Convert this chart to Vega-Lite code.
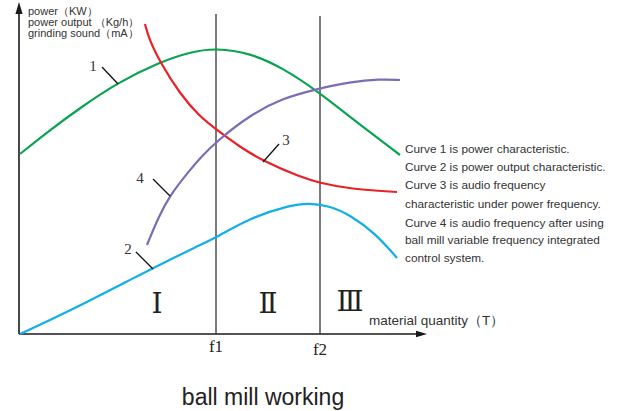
{
  "$schema": "https://vega.github.io/schema/vega-lite/v6.json",
  "width": 622,
  "height": 411,
  "autosize": {"type": "fit", "contains": "padding"},
  "padding": 0,
  "background": "white",
  "config": {"view": {"stroke": null}},
  "datasets": {
    "curves": [
      {"curve": "1", "x": 1, "y": 180}, {"curve": "1", "x": 31, "y": 204}, {"curve": "1", "x": 61, "y": 226}, {"curve": "1", "x": 98, "y": 251}, {"curve": "1", "x": 141, "y": 272}, {"curve": "1", "x": 171, "y": 282}, {"curve": "1", "x": 197, "y": 286}, {"curve": "1", "x": 231, "y": 281}, {"curve": "1", "x": 264, "y": 266}, {"curve": "1", "x": 301, "y": 241}, {"curve": "1", "x": 331, "y": 217}, {"curve": "1", "x": 381, "y": 179},
      {"curve": "3", "x": 126, "y": 310}, {"curve": "3", "x": 130, "y": 295}, {"curve": "3", "x": 141, "y": 272}, {"curve": "3", "x": 161, "y": 240}, {"curve": "3", "x": 181, "y": 217}, {"curve": "3", "x": 198, "y": 204}, {"curve": "3", "x": 221, "y": 187}, {"curve": "3", "x": 244, "y": 173}, {"curve": "3", "x": 281, "y": 157}, {"curve": "3", "x": 301, "y": 151}, {"curve": "3", "x": 331, "y": 145}, {"curve": "3", "x": 378, "y": 142},
      {"curve": "4", "x": 128, "y": 89}, {"curve": "4", "x": 139, "y": 116}, {"curve": "4", "x": 151, "y": 139}, {"curve": "4", "x": 171, "y": 164}, {"curve": "4", "x": 181, "y": 176}, {"curve": "4", "x": 198, "y": 193}, {"curve": "4", "x": 231, "y": 219}, {"curve": "4", "x": 264, "y": 236}, {"curve": "4", "x": 298, "y": 245}, {"curve": "4", "x": 331, "y": 252}, {"curve": "4", "x": 361, "y": 255}, {"curve": "4", "x": 381, "y": 254},
      {"curve": "2", "x": 1, "y": 0}, {"curve": "2", "x": 31, "y": 14}, {"curve": "2", "x": 64, "y": 30}, {"curve": "2", "x": 111, "y": 54}, {"curve": "2", "x": 134, "y": 66}, {"curve": "2", "x": 181, "y": 89}, {"curve": "2", "x": 198, "y": 97}, {"curve": "2", "x": 231, "y": 116}, {"curve": "2", "x": 271, "y": 129}, {"curve": "2", "x": 291, "y": 131}, {"curve": "2", "x": 311, "y": 128}, {"curve": "2", "x": 331, "y": 119}, {"curve": "2", "x": 356, "y": 101}, {"curve": "2", "x": 378, "y": 76}
    ]
  },
  "encoding": {
    "x": {"field": "x", "type": "quantitative", "scale": {"domain": [-19, 603], "nice": false, "zero": false}, "axis": null},
    "y": {"field": "y", "type": "quantitative", "scale": {"domain": [-77, 334], "nice": false, "zero": false}, "axis": null}
  },
  "layer": [
    {
      "data": {"values": [
        {"x": 0, "y": 0, "x2": 0, "y2": 322},
        {"x": 0, "y": 0, "x2": 400, "y2": 0}
      ]},
      "mark": {"type": "rule", "color": "#1a1a1a", "strokeWidth": 1.6},
      "encoding": {"x2": {"field": "x2"}, "y2": {"field": "y2"}}
    },
    {
      "data": {"values": [
        {"x": 197, "y": 0, "x2": 197, "y2": 320},
        {"x": 301, "y": 0, "x2": 301, "y2": 318}
      ]},
      "mark": {"type": "rule", "color": "#333333", "strokeWidth": 1.3},
      "encoding": {"x2": {"field": "x2"}, "y2": {"field": "y2"}}
    },
    {
      "data": {"values": [{"x": 0, "y": 326}]},
      "mark": {"type": "point", "shape": "M0,-1L0.6,1L-0.6,1Z", "size": 144, "filled": true, "color": "#1a1a1a", "opacity": 1}
    },
    {
      "data": {"values": [{"x": 402.5, "y": 0}]},
      "mark": {"type": "point", "shape": "M1,0L-1,-0.6L-1,0.6Z", "size": 121, "filled": true, "color": "#1a1a1a", "opacity": 1}
    },
    {
      "data": {"name": "curves"},
      "mark": {"type": "line", "interpolate": "basis", "strokeWidth": 2.2},
      "encoding": {
        "color": {"field": "curve", "type": "nominal", "scale": {"domain": ["1", "2", "3", "4"], "range": ["#0aa350", "#11aee8", "#ea2027", "#7a6db6"]}, "legend": null},
        "order": {"field": "x"}
      }
    },
    {
      "data": {"values": [
        {"x": 83, "y": 267, "x2": 99, "y2": 250},
        {"x": 260, "y": 190, "x2": 244, "y2": 172},
        {"x": 134, "y": 155, "x2": 151, "y2": 138},
        {"x": 117, "y": 82, "x2": 134, "y2": 65}
      ]},
      "mark": {"type": "rule", "color": "#111111", "strokeWidth": 1.3},
      "encoding": {"x2": {"field": "x2"}, "y2": {"field": "y2"}}
    },
    {
      "data": {"values": [
        {"x": 74, "y": 268, "label": "1"},
        {"x": 267, "y": 194, "label": "3"},
        {"x": 121, "y": 156, "label": "4"},
        {"x": 109, "y": 85, "label": "2"}
      ]},
      "mark": {"type": "text", "font": "Liberation Serif", "fontSize": 15, "color": "#333333", "align": "center", "baseline": "middle"},
      "encoding": {"text": {"field": "label"}}
    },
    {
      "data": {"values": [
        {"x": 138, "y": 29, "label": "Ⅰ"},
        {"x": 249, "y": 29, "label": "Ⅱ"},
        {"x": 331, "y": 31, "label": "Ⅲ"}
      ]},
      "mark": {"type": "text", "font": "DejaVu Serif", "fontSize": 28, "color": "#222222", "align": "center", "baseline": "middle"},
      "encoding": {"text": {"field": "label"}}
    },
    {
      "data": {"values": [
        {"x": 197, "y": -13, "label": "f1"},
        {"x": 301, "y": -16, "label": "f2"}
      ]},
      "mark": {"type": "text", "font": "Liberation Serif", "fontSize": 17, "color": "#222222", "align": "center", "baseline": "middle"},
      "encoding": {"text": {"field": "label"}}
    },
    {
      "data": {"values": [{"x": 350, "y": 13, "label": "material quantity（T）"}]},
      "mark": {"type": "text", "font": "Liberation Sans", "fontSize": 13.5, "color": "#333333", "align": "left", "baseline": "middle"},
      "encoding": {"text": {"field": "label"}}
    },
    {
      "data": {"values": [
        {"x": 9, "y": 322, "label": "power（KW）"},
        {"x": 9, "y": 311, "label": "power output （Kg/h）"},
        {"x": 9, "y": 300, "label": "grinding sound（mA）"}
      ]},
      "mark": {"type": "text", "font": "Liberation Sans", "fontSize": 11, "color": "#333333", "align": "left", "baseline": "middle"},
      "encoding": {"text": {"field": "label"}}
    },
    {
      "data": {"values": [
        {"x": 386, "y": 185, "label": "Curve 1 is power characteristic."},
        {"x": 386, "y": 167, "label": "Curve 2 is power output characteristic."},
        {"x": 386, "y": 149, "label": "Curve 3 is audio frequency"},
        {"x": 386, "y": 130.5, "label": "characteristic under power frequency."},
        {"x": 386, "y": 111.5, "label": "Curve 4 is audio frequency after using"},
        {"x": 386, "y": 94, "label": "ball mill variable frequency integrated"},
        {"x": 386, "y": 76, "label": "control system."}
      ]},
      "mark": {"type": "text", "font": "Liberation Sans", "fontSize": 11.8, "color": "#333333", "align": "left", "baseline": "middle"},
      "encoding": {"text": {"field": "label"}}
    },
    {
      "data": {"values": [{"x": 244, "y": -64, "label": "ball mill working"}]},
      "mark": {"type": "text", "font": "Liberation Sans", "fontSize": 23, "color": "#222222", "align": "center", "baseline": "middle"},
      "encoding": {"text": {"field": "label"}}
    }
  ]
}
